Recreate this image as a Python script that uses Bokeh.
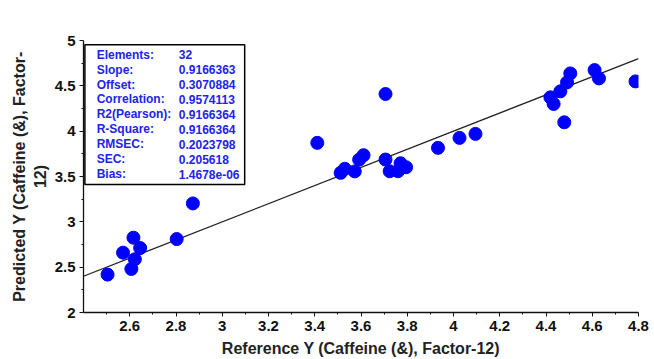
from bokeh.plotting import figure
from bokeh.models import ColumnDataSource, FixedTicker, Range1d, BoxAnnotation
from bokeh.core.properties import value
from bokeh.embed import file_html
from bokeh.resources import INLINE

# ---- data ----
ref_y = [2.504, 2.571, 2.616, 2.645, 2.622, 2.607, 2.803, 2.873,
         3.411, 3.512, 3.530, 3.573, 3.592, 3.611, 3.706, 3.706,
         3.724, 3.760, 3.771, 3.795, 3.933, 4.026, 4.095,
         4.419, 4.433, 4.462, 4.479, 4.491, 4.505, 4.610, 4.629, 4.787]
pred_y = [2.418, 2.660, 2.825, 2.711, 2.587, 2.480, 2.810, 3.203,
          3.871, 3.540, 3.585, 3.556, 3.686, 3.735, 4.410, 3.687,
          3.558, 3.558, 3.646, 3.602, 3.816, 3.926, 3.970,
          4.373, 4.300, 4.439, 4.098, 4.538, 4.637, 4.674, 4.582, 4.549]
fit_x = [2.4, 4.8]
fit_y = [2.4, 4.8]

x_ticks = [2.6, 2.8, 3.0, 3.2, 3.4, 3.6, 3.8, 4.0, 4.2, 4.4, 4.6, 4.8]
x_tick_labels = ["2.6", "2.8", "3", "3.2", "3.4", "3.6", "3.8", "4", "4.2", "4.4", "4.6", "4.8"]
x_minor = [2.5, 2.7, 2.9, 3.1, 3.3, 3.5, 3.7, 3.9, 4.1, 4.3, 4.5, 4.7]
y_ticks = [2.0, 2.5, 3.0, 3.5, 4.0, 4.5, 5.0]
y_tick_labels = ["2", "2.5", "3", "3.5", "4", "4.5", "5"]
y_minor = [2.25, 2.75, 3.25, 3.75, 4.25, 4.75]

stat_names = ["Elements:", "Slope:", "Offset:", "Correlation:", "R2(Pearson):",
              "R-Square:", "RMSEC:", "SEC:", "Bias:"]
stat_values = ["32", "0.9166363", "0.3070884", "0.9574113", "0.9166364",
               "0.9166364", "0.2023798", "0.205618", "1.4678e-06"]

FONT = "Liberation Sans"

p = figure(width=654, height=359, output_backend="svg", toolbar_location=None,
           x_range=Range1d(2.4, 4.8), y_range=Range1d(2.0, 5.0),
           min_border_left=83, min_border_right=16, min_border_top=40, min_border_bottom=47)
p.outline_line_color = None
p.xgrid.visible = False
p.ygrid.visible = False
p.background_fill_color = "white"
p.border_fill_color = "white"

for ax, ticks, minor, labels in ((p.xaxis[0], x_ticks, x_minor, x_tick_labels),
                                 (p.yaxis[0], y_ticks, y_minor, y_tick_labels)):
    ax.ticker = FixedTicker(ticks=ticks, minor_ticks=minor)
    ax.major_label_overrides = {t: l for t, l in zip(ticks, labels)}
    ax.major_label_text_font = FONT
    ax.major_label_text_font_style = "bold"
    ax.major_label_text_font_size = "15px"
    ax.major_label_text_color = "#111111"
    ax.axis_label_text_font = FONT
    ax.axis_label_text_font_style = "bold"
    ax.axis_label_text_font_size = "16px"
    ax.axis_label_text_color = "#222222"
    ax.axis_line_color = "#111111"
    ax.axis_line_width = 1.3
    ax.major_tick_line_color = "#111111"
    ax.minor_tick_line_color = "#111111"
    ax.major_tick_in = 0
    ax.major_tick_out = 4
    ax.minor_tick_in = 0
    ax.minor_tick_out = 2
    ax.major_label_standoff = 4

p.xaxis[0].axis_label_standoff = 6
p.yaxis[0].axis_label_standoff = 3
p.xaxis[0].axis_label = "Reference Y (Caffeine (&), Factor-12)"
p.yaxis[0].axis_label = "Predicted Y (Caffeine (&), Factor-\n12)"

# statistics box (behind the glyphs)
p.add_layout(BoxAnnotation(left=2.406, right=3.097, top=4.953, bottom=3.412,
                           fill_color="white", fill_alpha=1.0,
                           line_color="#000000", line_alpha=1.0, line_width=1.5,
                           level="underlay"))

# identity / fit line
p.line(fit_x, fit_y, line_color="#222222", line_width=1.3)

# points
src = ColumnDataSource(dict(x=ref_y, y=pred_y))
p.scatter("x", "y", source=src, size=13, fill_color="#0000FF", line_color="#0000FF")

row_y = [4.843 - i * 0.1645 for i in range(len(stat_names))]
stat_src = ColumnDataSource(dict(xn=[2.457] * len(stat_names), xv=[2.812] * len(stat_names),
                                 y=row_y, names=stat_names, vals=stat_values))
p.text(x="xn", y="y", text="names", source=stat_src, text_font=value(FONT),
       text_font_size="12px", text_font_style="bold", text_color="#2222EE",
       text_baseline="middle", text_align="left")
p.text(x="xv", y="y", text="vals", source=stat_src, text_font=value(FONT),
       text_font_size="12px", text_font_style="bold", text_color="#2222EE",
       text_baseline="middle", text_align="left")

open("out.html", "w").write(file_html(p, INLINE))
